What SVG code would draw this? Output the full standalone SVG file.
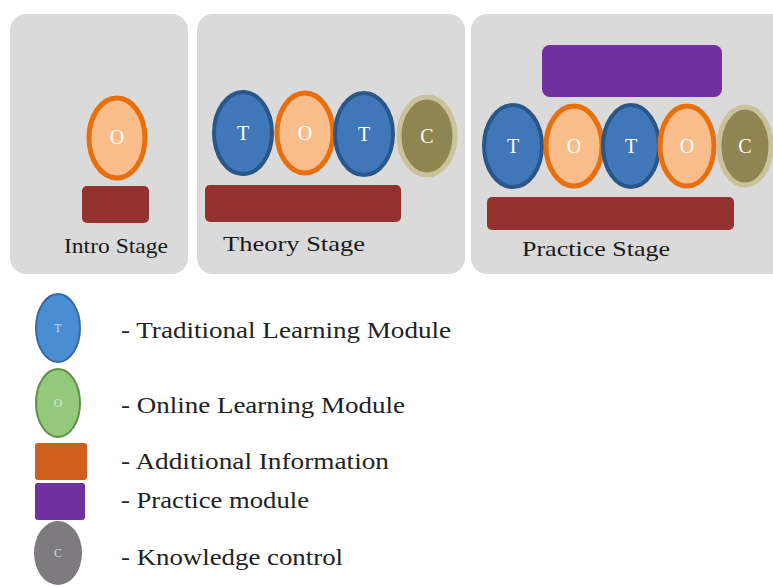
<svg xmlns="http://www.w3.org/2000/svg" width="773" height="587" viewBox="0 0 773 587">
  <style>
    .panel { fill: #dadada; }
    .t-mod { fill: #3f77b8; stroke: #2a5688; stroke-width: 4; }
    .o-mod { fill: #f9bd8c; stroke: #e8700c; stroke-width: 5; }
    .c-mod { fill: #8f8552; stroke: #c9c29a; stroke-width: 5; }
    .info { fill: #933330; }
    .practice { fill: #7030a0; }
    .mark { font-family: "Liberation Serif", "DejaVu Serif", serif; font-size: 20px; fill: #ffffff; text-anchor: middle; }
    .stage { font-family: "Liberation Serif", "DejaVu Serif", serif; font-size: 21px; fill: #1a1a1a; }
    .legend { font-family: "Liberation Serif", "DejaVu Serif", serif; font-size: 24px; fill: #222222; }
    .tiny { font-family: "Liberation Serif", serif; font-size: 12px; fill: #e8eef5; text-anchor: middle; opacity: 0.8; }
  </style>

  <rect width="773" height="587" fill="#ffffff"/>

  <!-- Intro stage -->
  <g id="intro-stage">
    <rect class="panel" x="10" y="14" width="178" height="260" rx="16"/>
    <ellipse class="o-mod" cx="117" cy="138" rx="28" ry="40"/>
    <text class="mark" x="117" y="144" font-size="15">O</text>
    <rect class="info" x="82" y="186" width="67" height="37" rx="5"/>
    <text class="stage" x="64" y="253" textLength="104" lengthAdjust="spacingAndGlyphs">Intro Stage</text>
  </g>

  <!-- Theory stage -->
  <g id="theory-stage">
    <rect class="panel" x="197" y="14" width="268" height="260" rx="16"/>
    <ellipse class="t-mod" cx="243" cy="133" rx="29" ry="41"/>
    <text class="mark" x="243" y="140">T</text>
    <ellipse class="o-mod" cx="305" cy="133" rx="28" ry="40"/>
    <text class="mark" x="305" y="140">O</text>
    <ellipse class="t-mod" cx="364" cy="134" rx="29" ry="41"/>
    <text class="mark" x="364" y="141">T</text>
    <ellipse class="c-mod" cx="427" cy="136" rx="28" ry="39"/>
    <text class="mark" x="427" y="143">C</text>
    <rect class="info" x="205" y="185" width="196" height="37" rx="5"/>
    <text class="stage" x="223" y="251" textLength="142" lengthAdjust="spacingAndGlyphs">Theory Stage</text>
  </g>

  <!-- Practice stage -->
  <g id="practice-stage">
    <rect class="panel" x="471" y="14" width="320" height="260" rx="16"/>
    <rect class="practice" x="542" y="45" width="180" height="52" rx="8"/>
    <ellipse class="t-mod" cx="513" cy="146" rx="29" ry="41"/>
    <text class="mark" x="513" y="153">T</text>
    <ellipse class="o-mod" cx="574" cy="146" rx="28" ry="40"/>
    <text class="mark" x="574" y="153">O</text>
    <ellipse class="t-mod" cx="631" cy="146" rx="28" ry="41"/>
    <text class="mark" x="631" y="153">T</text>
    <ellipse class="o-mod" cx="687" cy="146" rx="27" ry="40"/>
    <text class="mark" x="687" y="153">O</text>
    <ellipse class="c-mod" cx="745" cy="146" rx="26" ry="39"/>
    <text class="mark" x="745" y="153">C</text>
    <rect class="info" x="487" y="197" width="247" height="33" rx="5"/>
    <text class="stage" x="522" y="256" textLength="148" lengthAdjust="spacingAndGlyphs">Practice Stage</text>
  </g>

  <!-- Legend -->
  <g id="legend-traditional">
    <ellipse cx="58" cy="328" rx="22" ry="34" fill="#4a8dd3" stroke="#3a68a0" stroke-width="2"/>
    <text class="tiny" x="58" y="332">T</text>
    <text class="legend" x="121" y="338" textLength="330" lengthAdjust="spacingAndGlyphs">- Traditional Learning Module</text>
  </g>
  <g id="legend-online">
    <ellipse cx="58" cy="403" rx="22" ry="34" fill="#94c97c" stroke="#5f8f4a" stroke-width="2"/>
    <text class="tiny" x="58" y="407">O</text>
    <text class="legend" x="121" y="413" textLength="284" lengthAdjust="spacingAndGlyphs">- Online Learning Module</text>
  </g>
  <g id="legend-additional">
    <rect x="35" y="443" width="52" height="37" rx="3" fill="#cf5f1c"/>
    <text class="legend" x="121" y="469" textLength="268" lengthAdjust="spacingAndGlyphs">- Additional Information</text>
  </g>
  <g id="legend-practice">
    <rect x="35" y="483" width="50" height="37" rx="3" fill="#7030a0"/>
    <text class="legend" x="121" y="508" textLength="188" lengthAdjust="spacingAndGlyphs">- Practice module</text>
  </g>
  <g id="legend-control">
    <ellipse cx="58" cy="553" rx="24" ry="32" fill="#7e7b7e"/>
    <text class="tiny" x="58" y="557">C</text>
    <text class="legend" x="121" y="565" textLength="222" lengthAdjust="spacingAndGlyphs">- Knowledge control</text>
  </g>
</svg>
